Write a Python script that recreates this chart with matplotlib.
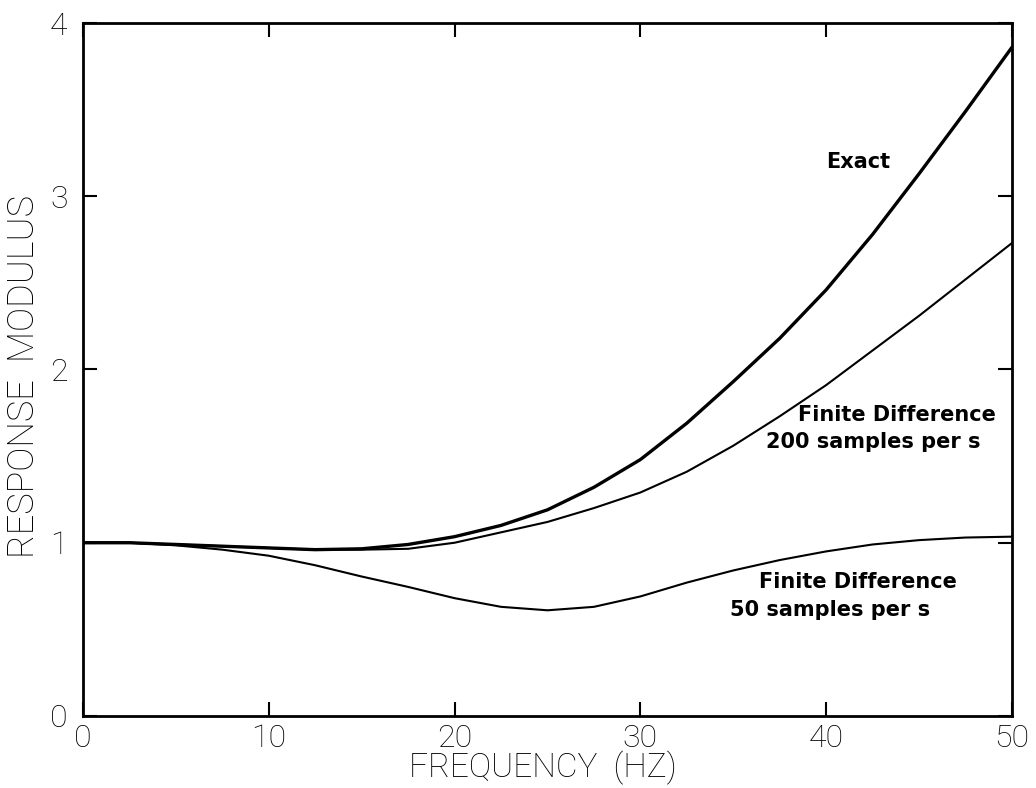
import matplotlib.pyplot as plt

# Frequency grid (Hz) and response moduli read at each frequency
freq = [0, 2.5, 5, 7.5, 10, 12.5, 15, 17.5, 20, 22.5, 25,
        27.5, 30, 32.5, 35, 37.5, 40, 42.5, 45, 47.5, 50]
exact = [1.00, 1.00, 0.99, 0.98, 0.97, 0.96, 0.965, 0.99, 1.035, 1.10, 1.19,
         1.32, 1.48, 1.69, 1.93, 2.18, 2.46, 2.78, 3.13, 3.49, 3.86]
fd_200 = [1.00, 1.00, 0.99, 0.98, 0.97, 0.96, 0.96, 0.965, 1.00, 1.06, 1.12,
          1.20, 1.29, 1.41, 1.56, 1.73, 1.91, 2.11, 2.31, 2.52, 2.73]
fd_50 = [1.00, 1.00, 0.985, 0.96, 0.925, 0.87, 0.805, 0.745, 0.68, 0.63, 0.61,
         0.63, 0.69, 0.77, 0.84, 0.90, 0.95, 0.99, 1.015, 1.03, 1.035]

x_ticks = [0, 10, 20, 30, 40, 50]
y_ticks = [0, 1, 2, 3, 4]

light = dict(family='Roboto', weight='light', color='black')
bold = dict(family='DejaVu Sans', weight='bold', fontsize=15,
            ha='center', va='center')

fig = plt.figure(figsize=(10.36, 7.88), dpi=100)
ax = fig.add_axes([0.0801, 0.0914, 0.8967, 0.8794])

line_kw = dict(color='black', solid_joinstyle='round', solid_capstyle='round')
ax.plot(freq, exact, lw=2.4, **line_kw)
ax.plot(freq, fd_200, lw=1.5, **line_kw)
ax.plot(freq, fd_50, lw=1.5, **line_kw)

ax.set_xlim(0, 50)
ax.set_ylim(0, 4)
ax.set_xticks(x_ticks)
ax.set_yticks(y_ticks)
ax.set_xticklabels([str(t) for t in x_ticks], fontsize=23, **light)
ax.set_yticklabels([str(t) for t in y_ticks], fontsize=23, **light)
ax.tick_params(direction='in', length=10, width=1.5, top=True, right=True)
ax.tick_params(axis='x', pad=6)
ax.tick_params(axis='y', pad=11)
for s in ax.spines.values():
    s.set_linewidth(2)

fig.text(0.524, 1 - 768 / 788, 'FREQUENCY  (HZ)', fontsize=24,
         ha='center', va='center', **light)
fig.text(0.023, 1 - 377 / 788, 'RESPONSE  MODULUS', fontsize=26,
         rotation=90, ha='center', va='center', **light)

ax.text(41.7, 3.20, 'Exact', **bold)
ax.text(43.8, 1.74, 'Finite Difference', **bold)
ax.text(42.55, 1.58, '200 samples per s', **bold)
ax.text(41.7, 0.775, 'Finite Difference', **bold)
ax.text(40.2, 0.61, '50 samples per s', **bold)

fig.savefig('out.png', dpi=100)
